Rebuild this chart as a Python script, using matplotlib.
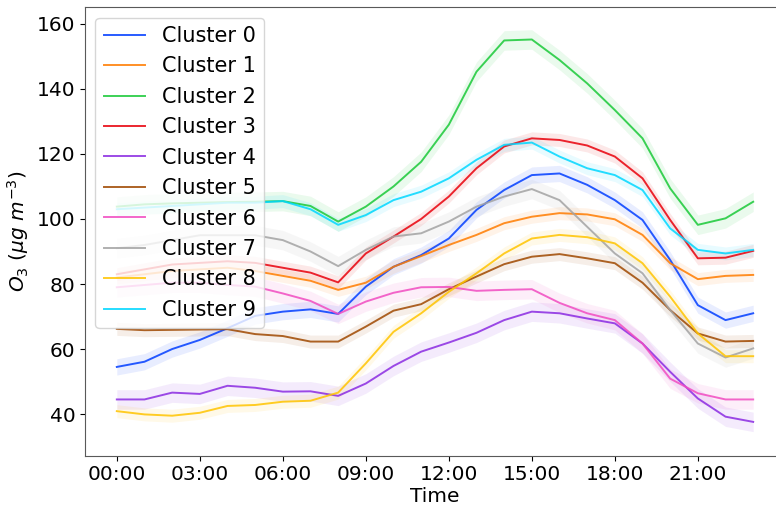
import numpy as np
import matplotlib.pyplot as plt

# --- DATA ---
hours = np.arange(24)
tick_hours = [0, 3, 6, 9, 12, 15, 18, 21]
tick_labels = ["00:00", "03:00", "06:00", "09:00", "12:00", "15:00", "18:00", "21:00"]

cluster0 = [54.5, 56.1, 60.0, 62.8, 66.4, 70.2, 71.5, 72.2, 70.8, 79.2, 85.3, 88.9,
            94.0, 102.8, 108.9, 113.5, 114.0, 110.5, 105.8, 99.7, 87.4, 73.5, 68.9, 71.0]
cluster1 = [82.0, 83.0, 84.0, 84.5, 85.0, 84.0, 82.5, 81.0, 78.2, 80.4, 85.3, 88.6,
            92.0, 95.1, 98.7, 100.7, 101.8, 101.4, 99.9, 95.1, 86.4, 81.5, 82.5, 82.8]
cluster2 = [103.8, 104.5, 104.8, 105.0, 105.2, 105.3, 105.5, 104.0, 99.2, 103.8, 110.0, 117.6,
            129.0, 145.3, 154.9, 155.2, 148.9, 141.7, 133.5, 124.8, 109.4, 98.2, 100.2, 105.3]
cluster3 = [83.0, 84.5, 86.0, 86.5, 87.0, 86.5, 85.0, 83.5, 80.5, 89.4, 94.6, 100.0,
            106.9, 115.6, 122.3, 124.8, 124.3, 122.6, 119.2, 112.5, 99.7, 87.9, 88.1, 90.2]
cluster4 = [44.5, 44.5, 46.6, 46.2, 48.7, 48.1, 46.9, 47.0, 45.6, 49.4, 54.8, 59.2,
            62.0, 65.0, 68.9, 71.5, 71.0, 69.4, 67.9, 61.7, 53.0, 44.8, 39.2, 37.6]
cluster5 = [66.2, 65.8, 65.9, 66.0, 66.1, 64.6, 64.0, 62.3, 62.3, 66.9, 71.8, 73.8,
            78.4, 82.3, 86.1, 88.4, 89.2, 87.9, 86.4, 80.4, 72.0, 64.8, 62.3, 62.5]
cluster6 = [79.0, 79.7, 80.4, 80.4, 79.7, 79.2, 77.1, 74.8, 70.8, 74.6, 77.3, 79.0,
            79.1, 77.9, 78.2, 78.4, 74.2, 71.0, 68.9, 61.7, 50.9, 46.4, 44.5, 44.5]
cluster7 = [91.0, 92.0, 93.5, 95.0, 95.0, 95.0, 93.5, 90.0, 85.5, 90.5, 94.6, 95.6,
            99.2, 103.8, 106.9, 109.2, 105.8, 97.6, 89.4, 83.3, 72.0, 61.7, 57.4, 60.2]
cluster8 = [40.9, 39.9, 39.5, 40.4, 42.5, 42.8, 43.8, 44.1, 46.6, 55.6, 65.3, 71.0,
            77.6, 83.3, 89.4, 94.0, 95.1, 94.4, 92.5, 86.4, 76.1, 64.8, 57.8, 57.8]
cluster9 = [103.0, 103.5, 104.0, 104.5, 105.0, 105.0, 105.5, 103.0, 98.2, 101.2, 105.8, 108.4,
            112.5, 118.2, 122.8, 123.5, 119.2, 115.6, 113.5, 108.9, 97.1, 90.5, 89.4, 90.5]

series = [cluster0, cluster1, cluster2, cluster3, cluster4,
          cluster5, cluster6, cluster7, cluster8, cluster9]
labels = ["Cluster %d" % i for i in range(10)]
# half width of the confidence band, per cluster
band = [2.5, 2.0, 3.0, 2.0, 3.0, 2.0, 3.0, 3.0, 2.0, 2.0]

colors = ['#023eff', '#ff7c00', '#1ac938', '#e8000b', '#8b2be2',
          '#9f4800', '#f14cc1', '#a3a3a3', '#ffc400', '#00d7ff']

# --- PLOT ---
fig = plt.figure(figsize=(7.76, 5.05), dpi=100)
ax = fig.add_axes([85 / 776, 1 - 455.7 / 505, 700 / 776, (455.7 - 7.3) / 505])

for i, vals in enumerate(series):
    vals = np.array(vals)
    ax.fill_between(hours, vals - band[i], vals + band[i],
                    color=colors[i], alpha=0.09, linewidth=0)
    ax.plot(hours, vals, color=colors[i], linewidth=1.4, alpha=0.85, label=labels[i])

ax.set_xlim(-1.15, 24.15)
ax.set_ylim(27.2, 165.1)
ax.set_xticks(tick_hours)
ax.set_xticklabels(tick_labels)
ax.tick_params(labelsize=14.5)
ax.set_xlabel("Time", fontsize=14.5, labelpad=2)
ax.set_ylabel(r"$O_3$ ($\mu g$ $m^{-3}$)", fontsize=14.5)

for s in ax.spines.values():
    s.set_color("0.35")

ax.legend(loc="upper left", fontsize=15, handlelength=2.0)

fig.savefig("out.png", dpi=100)
